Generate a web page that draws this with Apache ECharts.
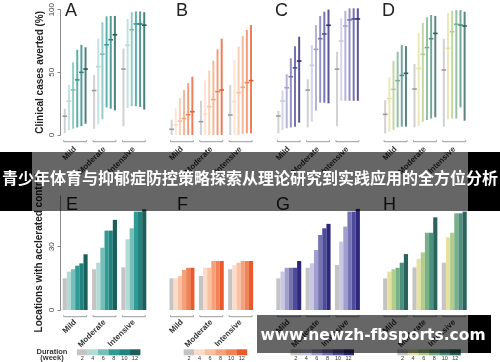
<!DOCTYPE html>
<html><head><meta charset="utf-8">
<script src="https://cdn.jsdelivr.net/npm/echarts@6/dist/echarts.min.js"></script>
<style>
html,body{margin:0;padding:0;background:#fff}
#wrap{position:relative;width:500px;height:362px;overflow:hidden}
#c{position:absolute;left:0;top:0;width:500px;height:362px}
.ov{position:absolute;box-sizing:border-box}
.txt{position:absolute;color:#fff;font-weight:bold;white-space:nowrap;text-align:center}
</style>
</head><body><div id="wrap"><div id="c"></div>
<div class="ov" style="left:0;top:152px;width:32px;height:59px;background:#000"></div>
<div class="ov" style="left:32px;top:152px;width:436px;height:59px;background:rgba(0,0,0,0.6)"></div>
<div class="ov" style="left:468px;top:152px;width:32px;height:59px;background:#000"></div>
<div class="txt" id="banner" style="left:0;top:165px;width:500px;height:25px;line-height:25px;font-size:16px;font-family:'Noto Sans CJK SC',sans-serif"></div>
<div class="ov" style="left:257px;top:315px;width:211px;height:38px;background:rgba(0,0,0,0.6)"></div>
<div class="ov" style="left:468px;top:315px;width:23px;height:38px;background:#000"></div>
<div class="txt" id="wm" style="left:257px;top:323px;width:232px;height:24px;line-height:24px;font-size:15.5px;font-family:'DejaVu Sans',sans-serif"></div>
</div>
<script>
const intensities = ['Mild', 'Moderate', 'Intensive'];
const durations = [2, 4, 6, 8, 10, 12];
const yTicksTop = [0, 50, 100];
const yTicksBottom = [0, 30];
const topLetters = ['A', 'B', 'C', 'D'];
const bottomLetters = ['E', 'F', 'G', 'H'];
const topAxisName = 'Clinical cases averted (%)';
const bottomAxisName = 'Locations with acclerated control';
const legendTitle = ['Duration', '(week)'];
const bannerText = '青少年体育与抑郁症防控策略探索从理论研究到实践应用的全方位分析';
const watermarkText = 'www.newzh-fbsports.com';

// Top row: clinical cases averted (%), rows = Mild, Moderate, Intensive; columns = durations
const A_mid  = [[15, 27, 36, 44, 50, 52.6], [35.5, 54.5, 64.5, 72, 76, 80], [52.6, 71.6, 84, 88.6, 88.6, 87.6]];
const A_low  = [[1.5, 4, 5, 6, 7, 9], [5, 8.5, 12.6, 22, 21, 19.7], [7, 21.6, 23, 23, 22.4, 20.3]];
const A_high = [[21, 40, 58, 68, 72, 70], [48, 77, 90, 94.7, 95, 95], [69, 92.6, 98, 98.6, 98.6, 98]];

const B_mid  = [[4.5, 8, 11, 13, 16, 18.4], [10.5, 16.5, 22.4, 28, 34.2, 35.5], [15.8, 26.3, 33.4, 37.6, 41.3, 42.9]];
const B_low  = [[0, 0, 0, 0, 0, 0], [0, 0, 0, 0, 0, 0], [0, 0, 0, 0.8, 1.3, 1.3]];
const B_high = [[12, 21, 29, 35.5, 41, 46], [27, 43, 51, 58.7, 67.6, 76], [39.5, 59, 69.7, 78, 83, 86.8]];

const C_mid  = [[15, 26.8, 37.3, 46, 53, 58.4], [35.5, 55, 67.6, 76, 79.7, 86.6], [52, 74.2, 86, 90.8, 91.6, 91.6]];
const C_low  = [[1.3, 4, 5.3, 6, 6.6, 9.7], [6, 10.5, 19.2, 25.5, 25.5, 25], [7, 27, 27, 27, 27, 27]];
const C_high = [[19, 35, 48, 60.5, 70, 77.6], [44, 71, 86.8, 94, 97.3, 99], [65.7, 92, 98, 100, 100, 100]];

const D_mid  = [[16.3, 28.7, 36, 42.9, 47, 48.7], [36.3, 52.6, 63.7, 69, 76, 80.2], [51.3, 68.4, 81.5, 87.4, 86.8, 86]];
const D_low  = [[1.3, 2.6, 4, 6, 6.6, 6.6], [6, 7, 10.5, 11.8, 13, 14], [6.6, 12.4, 13, 13, 21.8, 11.3]];
const D_high = [[27.6, 45.5, 58.4, 65.7, 71, 70.2], [56, 80.7, 88.6, 92.9, 94.7, 94], [76, 96.5, 98, 98.6, 98.6, 97.3]];

// Bottom row: locations with accelerated control
const E_vals = [[15, 18.2, 19.3, 21, 22.1, 26.4], [19.3, 22.4, 29.5, 37.6, 37.6, 42.7], [20.2, 33.5, 38.7, 46.6, 46.6, 47.7]];
const F_vals = [[15, 15, 16.1, 19, 20, 20], [16.1, 20, 20, 23.2, 23.2, 23.2], [19.3, 21.3, 22.4, 23.2, 23.2, 23.2]];
const G_vals = [[15, 18.2, 20, 20, 20, 23.2], [20, 22.1, 28.4, 35.5, 38.7, 40.8], [21.3, 32.4, 39.5, 46.6, 46.6, 47.9]];
const H_vals = [[15, 18.2, 19.3, 20, 22.4, 26.5], [20.2, 24.2, 27.3, 36.6, 36.6, 43.9], [22.4, 34.4, 36.6, 45.8, 45.8, 46.6]];

const colorsTeal   = ['#c4c4c4', '#b3dbd6', '#76bfb8', '#2f9b94', '#21837d', '#1b5e5a'];
const colorsOrange = ['#c4c4c4', '#fcdcc9', '#f9c19f', '#f5a27c', '#f08459', '#e9592b'];
const colorsPurple = ['#c4c4c4', '#c8c8e4', '#a09ecd', '#7673b3', '#4f4b9a', '#2c287b'];
const colorsGreen  = ['#c4c4c4', '#e5e2a0', '#b0cd8d', '#78b188', '#4c9080', '#2b625c'];

document.getElementById('banner').textContent = bannerText;
document.getElementById('wm').textContent = watermarkText;

const topPanels = [
  {mid: A_mid, low: A_low, high: A_high, colors: colorsTeal},
  {mid: B_mid, low: B_low, high: B_high, colors: colorsOrange},
  {mid: C_mid, low: C_low, high: C_high, colors: colorsPurple},
  {mid: D_mid, low: D_low, high: D_high, colors: colorsGreen}
];
const bottomPanels = [
  {vals: E_vals, colors: colorsTeal},
  {vals: F_vals, colors: colorsOrange},
  {vals: G_vals, colors: colorsPurple},
  {vals: H_vals, colors: colorsGreen}
];

const FONT = '"Liberation Sans", Arial, sans-serif';
const gridLefts = [60.5, 167.3, 274.1, 380.9];
const gridW = 88;
const CAT_GAP = 0.15;

const grids = [], xAxes = [], yAxes = [], series = [];

function bracketSeries(idx) {
  return {
    type: 'custom', xAxisIndex: idx, yAxisIndex: idx, silent: true, clip: false,
    data: intensities.map((_, i) => [i, 0]),
    encode: {x: 0, y: 1},
    renderItem: function (params, api) {
      const c = api.coord([api.value(0), api.value(1)]);
      const band = api.size([1, 0])[0];
      const half = band * (1 - CAT_GAP) / 2 - 1;
      const y = c[1] + 6.7;
      return {type: 'polyline', shape: {points: [[c[0] - half, y - 1.5], [c[0] - half, y], [c[0] + half, y], [c[0] + half, y - 1.5]]},
        style: {stroke: '#9a9a9a', lineWidth: 1, fill: null}};
    }
  };
}

function xAxisDef(idx, margin) {
  return {
    type: 'category', gridIndex: idx, data: intensities,
    axisLine: {show: false}, axisTick: {show: false}, splitLine: {show: false},
    axisLabel: {interval: 0, rotate: 45, margin: margin, fontSize: 8, fontWeight: 'bold', color: '#333', fontFamily: FONT}
  };
}

function yAxisDef(idx, show, max, interval, ticks, name, nameGap) {
  return {
    type: 'value', gridIndex: idx, min: 0, max: max, interval: interval, show: show,
    name: name, nameLocation: 'middle', nameGap: nameGap,
    nameTextStyle: {fontSize: 10, fontWeight: 'bold', color: '#222', fontFamily: FONT},
    axisLine: {show: true, lineStyle: {color: '#8a8a8a', width: 1}},
    axisTick: {show: true, length: 3, lineStyle: {color: '#8a8a8a'}, customValues: ticks},
    splitLine: {show: false},
    axisLabel: {rotate: 90, margin: 5, fontSize: 8, color: '#444', fontFamily: FONT, customValues: ticks,
      formatter: v => (ticks.indexOf(v) >= 0 ? String(v) : '')}
  };
}

topPanels.forEach((p, pi) => {
  const idx = pi;
  grids.push({left: gridLefts[pi], width: gridW, top: 8.3, bottom: 227});
  xAxes.push(xAxisDef(idx, 13));
  yAxes.push(yAxisDef(idx, pi === 0, 100, 50, yTicksTop, pi === 0 ? topAxisName : '', 15));
  const data = [];
  intensities.forEach((_, gi) => durations.forEach((d, k) => {
    data.push([gi, k, p.low[gi][k], p.mid[gi][k], p.high[gi][k]]);
  }));
  series.push({
    type: 'custom', xAxisIndex: idx, yAxisIndex: idx, silent: true, clip: false,
    data: data, encode: {x: 0, y: [2, 3, 4]},
    renderItem: function (params, api) {
      const gi = api.value(0), k = api.value(1);
      const band = api.size([1, 0])[0];
      const bw = band * (1 - CAT_GAP) / durations.length;
      const x = api.coord([gi, 0])[0] + (k - (durations.length - 1) / 2) * bw;
      const yl = api.coord([gi, api.value(2)])[1];
      const ym = api.coord([gi, api.value(3)])[1];
      const yh = api.coord([gi, api.value(4)])[1];
      const col = p.colors[k];
      return {type: 'group', children: [
        {type: 'line', shape: {x1: x, y1: yl, x2: x, y2: yh}, style: {stroke: col, lineWidth: 2, opacity: 0.78}},
        {type: 'line', shape: {x1: x - 2.3, y1: ym, x2: x + 2.3, y2: ym}, style: {stroke: k === 0 ? '#9a9a9a' : col, lineWidth: 1.6}}
      ]};
    }
  });
  series.push(bracketSeries(idx));
});

bottomPanels.forEach((p, pi) => {
  const idx = 4 + pi;
  grids.push({left: gridLefts[pi], width: gridW, top: 196, bottom: 52});
  xAxes.push(xAxisDef(idx, 11));
  yAxes.push(yAxisDef(idx, pi === 0, 54, 30, yTicksBottom, pi === 0 ? bottomAxisName : '', 16));
  durations.forEach((d, k) => {
    series.push({
      type: 'bar', xAxisIndex: idx, yAxisIndex: idx, silent: true,
      barGap: '0%', barCategoryGap: (CAT_GAP * 100) + '%',
      itemStyle: {color: p.colors[k]},
      data: intensities.map((_, gi) => p.vals[gi][k])
    });
  });
  series.push(bracketSeries(idx));
});

const graphics = [];
const letterX = [65, 176, 275, 382];
topLetters.forEach((L, i) => graphics.push({type: 'text', x: letterX[i], y: 11.5, z: 50,
  style: {text: L, fill: '#222', font: '18px ' + FONT, align: 'left', verticalAlign: 'middle', textAlign: 'left', textVerticalAlign: 'middle'}}));
bottomLetters.forEach((L, i) => graphics.push({type: 'text', x: letterX[i] + 1, y: 205.5, z: 50,
  style: {text: L, fill: '#222', font: '18px ' + FONT, align: 'left', verticalAlign: 'middle', textAlign: 'left', textVerticalAlign: 'middle'}}));

graphics.push({type: 'text', x: 52, y: 352.3, z: 50,
  style: {text: legendTitle[0], fill: '#333', font: 'bold 7.5px ' + FONT, align: 'center', verticalAlign: 'middle', textAlign: 'center', textVerticalAlign: 'middle'}});
graphics.push({type: 'text', x: 52, y: 358.3, z: 50,
  style: {text: legendTitle[1], fill: '#333', font: 'bold 7.5px ' + FONT, align: 'center', verticalAlign: 'middle', textAlign: 'center', textVerticalAlign: 'middle'}});
const swW = 10.55;
[colorsTeal, colorsOrange, colorsPurple, colorsGreen].forEach((cols, pi) => {
  const x0 = gridLefts[pi] + 16.4;
  cols.forEach((c, k) => {
    graphics.push({type: 'rect', z: 50, shape: {x: x0 + k * swW, y: 349.3, width: swW + 0.2, height: 6}, style: {fill: c}});
    graphics.push({type: 'text', z: 50, x: x0 + k * swW + swW / 2, y: 358.6,
      style: {text: String(durations[k]), fill: '#333', font: '5.5px ' + FONT, align: 'center', verticalAlign: 'middle', textAlign: 'center', textVerticalAlign: 'middle'}});
  });
});

const chart = echarts.init(document.getElementById('c'), null, {renderer: 'canvas'});
chart.setOption({
  animation: false,
  backgroundColor: '#fff',
  grid: grids, xAxis: xAxes, yAxis: yAxes, series: series,
  graphic: {elements: graphics}
});
</script></body></html>
